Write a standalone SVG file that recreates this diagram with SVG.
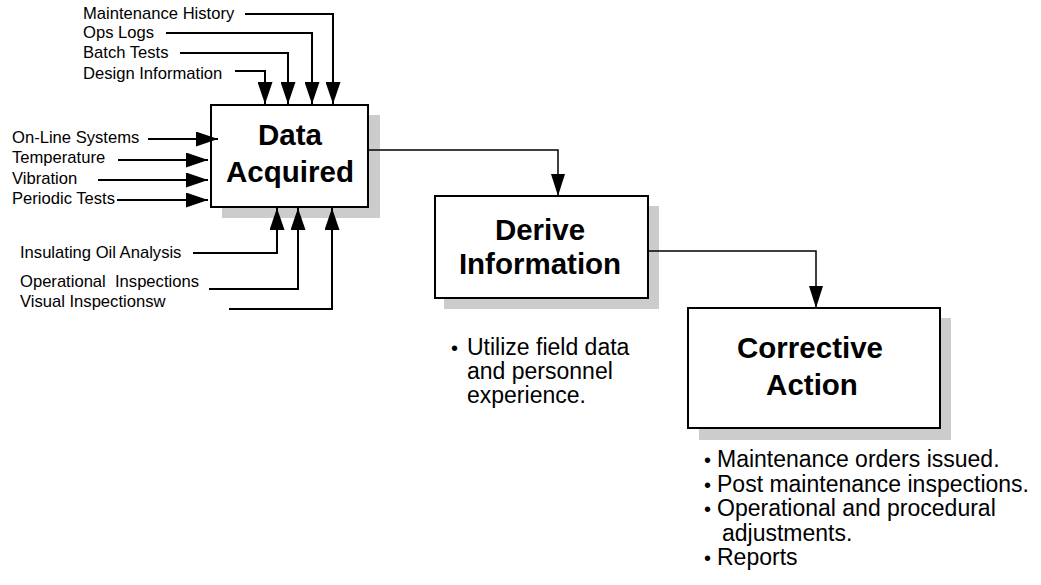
<svg xmlns="http://www.w3.org/2000/svg" width="1041" height="585" viewBox="0 0 1041 585">
<style>
.lbl{font-family:"Liberation Sans",Arial,sans-serif;font-size:16.6px;fill:#000;white-space:pre}
.ttl{font-family:"Liberation Sans",Arial,sans-serif;font-size:29.5px;font-weight:bold;fill:#000;text-anchor:middle}
.bul{font-family:"Liberation Sans",Arial,sans-serif;font-size:23px;fill:#000}
.dot{font-family:"Liberation Sans",Arial,sans-serif;font-size:20px;fill:#000}
.box{fill:#fff;stroke:#000;stroke-width:2}
.shd{fill:#cccccc}
.in{fill:none;stroke:#000;stroke-width:2;marker-end:url(#ah)}
.cn{fill:none;stroke:#000;stroke-width:1.5;marker-end:url(#ah2)}
</style>
<defs>
<marker id="ah" markerUnits="userSpaceOnUse" markerWidth="23" markerHeight="15" refX="22" refY="7.5" orient="auto"><path d="M0,0 L22,7.5 L0,15 z" fill="#000"/></marker>
<marker id="ah2" markerUnits="userSpaceOnUse" markerWidth="23" markerHeight="14" refX="22" refY="7" orient="auto"><path d="M0,0 L22,7 L0,14 z" fill="#000"/></marker>
</defs>
<rect width="1041" height="585" fill="#fff"/>

<g id="data-acquired">
<rect class="shd" x="222" y="115" width="158" height="103"/>
<rect class="box" x="211" y="105" width="157" height="102"/>
<text class="ttl" x="290" y="145">Data</text>
<text class="ttl" x="290" y="182">Acquired</text>
</g>

<g id="derive-information">
<rect class="shd" x="444" y="206" width="215" height="103"/>
<rect class="box" x="435" y="196" width="213" height="102"/>
<text class="ttl" x="540" y="240">Derive</text>
<text class="ttl" x="540" y="274">Information</text>
<text class="dot" x="451" y="355">•</text>
<text class="bul" x="467" y="355">Utilize field data</text>
<text class="bul" x="467" y="379">and personnel</text>
<text class="bul" x="467" y="403">experience.</text>
</g>

<g id="corrective-action">
<rect class="shd" x="699" y="318" width="252" height="122"/>
<rect class="box" x="688" y="308" width="252" height="120"/>
<text class="ttl" x="810" y="358">Corrective</text>
<text class="ttl" x="812" y="395">Action</text>
<text class="dot" x="704" y="467">•</text>
<text class="bul" x="717" y="467">Maintenance orders issued.</text>
<text class="dot" x="704" y="491.5">•</text>
<text class="bul" x="717" y="491.5">Post maintenance inspections.</text>
<text class="dot" x="704" y="516">•</text>
<text class="bul" x="717" y="516">Operational and procedural</text>
<text class="bul" x="722" y="540.5">adjustments.</text>
<text class="dot" x="704" y="565">•</text>
<text class="bul" x="717" y="565">Reports</text>
</g>

<g id="input-labels">
<text class="lbl" x="83" y="19">Maintenance History</text>
<text class="lbl" x="83" y="38">Ops Logs</text>
<text class="lbl" x="83" y="58">Batch Tests</text>
<text class="lbl" x="83" y="79">Design Information</text>
<text class="lbl" x="12" y="143">On-Line Systems</text>
<text class="lbl" x="12" y="163">Temperature</text>
<text class="lbl" x="12" y="184">Vibration</text>
<text class="lbl" x="12" y="204">Periodic Tests</text>
<text class="lbl" x="20" y="258">Insulating Oil Analysis</text>
<text class="lbl" x="20" y="287" xml:space="preserve">Operational  Inspections</text>
<text class="lbl" x="20" y="307">Visual Inspectionsw</text>
</g>

<g id="connectors">
<polyline class="in" points="245,14 333,14 333,104"/>
<polyline class="in" points="166,33 312,33 312,104"/>
<polyline class="in" points="180,53 288,53 288,104"/>
<polyline class="in" points="235,71 265,71 265,104"/>
<polyline class="in" points="148,139 218,139"/>
<polyline class="in" points="118,160 208,160"/>
<polyline class="in" points="98,180 208,180"/>
<polyline class="in" points="117,200 208,200"/>
<polyline class="in" points="193,253 277,253 277,208"/>
<polyline class="in" points="209,289 298,289 298,208"/>
<polyline class="in" points="229,309 332,309 332,208"/>
<polyline class="cn" points="368,150 558,150 558,196"/>
<polyline class="cn" points="648,251 816,251 816,308"/>
</g>
</svg>
